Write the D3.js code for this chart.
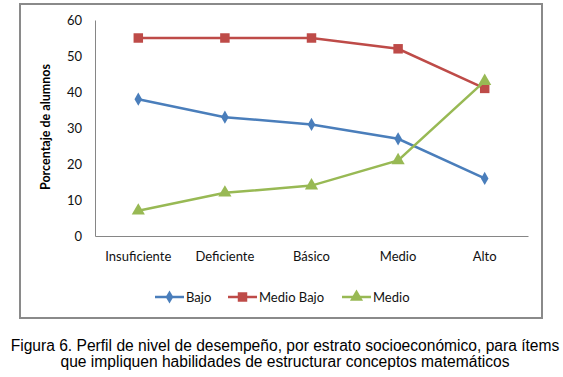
<!DOCTYPE html>
<html>
<head>
<meta charset="utf-8">
<script src="https://cdn.jsdelivr.net/npm/d3@7"></script>
<style>
body { margin: 0; background: #fff; }
</style>
</head>
<body>
<div id="chart-area"></div>
<script>
var categories = ["Insuficiente", "Deficiente", "Básico", "Medio", "Alto"];
var bajo = [38, 33, 31, 27, 16];
var medioBajo = [55, 55, 55, 52, 41];
var medio = [7, 12, 14, 21, 43];
var yTicks = [0, 10, 20, 30, 40, 50, 60];
var seriesNames = ["Bajo", "Medio Bajo", "Medio"];

var colors = ["#4A7EBB", "#BE4B48", "#98B954"];
var shapes = [d3.symbolDiamond, d3.symbolSquare, d3.symbolTriangle];
var sizes = [50, 90, 75];

var series = [bajo, medioBajo, medio].map(function(vals, i){
	return { name: seriesNames[i], values: vals, color: colors[i], shape: shapes[i], size: sizes[i] };
});

var svg = d3.select("#chart-area")
.append("svg")
	.attr("width", 563)
	.attr("height", 377);

// chart frame
svg.append("rect")
	.attr("x", 20)
	.attr("y", 4)
	.attr("width", 522)
	.attr("height", 314)
	.attr("fill", "#fff")
	.attr("stroke", "#8a8a8a")
	.attr("stroke-width", 2);

var plot = {left: 95, right: 528, top: 20, bottom: 236};

	// X scale
var x = d3.scaleBand()
	.domain(categories)
	.range([plot.left, plot.right]);

	// Y scale
var y = d3.scaleLinear()
	.domain([0, 60])
	.range([plot.bottom, plot.top]);

var font = "Lato, 'Open Sans', sans-serif";

	// Y axis
var yAxis = svg.append("g")
	.attr("transform", "translate(" + plot.left + ",0)")
	.call(d3.axisLeft(y).tickValues(yTicks).tickSize(0).tickPadding(13));
yAxis.select(".domain").attr("stroke", "#868686");
yAxis.selectAll("text")
	.attr("font-family", font)
	.attr("font-size", "13px")
	.attr("fill", "#111");

	// X axis
var xAxis = svg.append("g")
	.attr("transform", "translate(0," + plot.bottom + ")")
	.call(d3.axisBottom(x).tickSize(0).tickPadding(16));
xAxis.select(".domain").attr("stroke", "#868686");
xAxis.selectAll("text")
	.attr("font-family", font)
	.attr("font-size", "13px")
	.attr("fill", "#111");

	// Y label
svg.append("text")
	.attr("transform", "translate(50,127) rotate(-90)")
	.attr("text-anchor", "middle")
	.attr("font-family", font)
	.attr("font-size", "12.5px")
	.attr("font-weight", "bold")
	.text("Porcentaje de alumnos");

var line = d3.line()
	.x(function(d, i){ return x(categories[i]) + x.bandwidth() / 2; })
	.y(function(d){ return y(d); });

series.forEach(function(s){
	svg.append("path")
		.attr("d", line(s.values))
		.attr("fill", "none")
		.attr("stroke", s.color)
		.attr("stroke-width", 2.5);

	svg.selectAll(null)
		.data(s.values)
		.enter()
		.append("path")
			.attr("d", d3.symbol().type(s.shape).size(s.size))
			.attr("transform", function(d, i){
				return "translate(" + (x(categories[i]) + x.bandwidth() / 2) + "," + y(d) + ")";
			})
			.attr("fill", s.color);
});

	// legend
var legendX = [155, 228, 342];
series.forEach(function(s, i){
	var row = svg.append("g")
		.attr("transform", "translate(" + legendX[i] + ",297)");
	row.append("line")
		.attr("x1", 0)
		.attr("x2", 29)
		.attr("stroke", s.color)
		.attr("stroke-width", 2.5);
	row.append("path")
		.attr("d", d3.symbol().type(s.shape).size(s.size))
		.attr("transform", "translate(14.5,0)")
		.attr("fill", s.color);
	row.append("text")
		.attr("x", 31)
		.attr("y", 4.5)
		.attr("font-family", font)
		.attr("font-size", "13px")
		.attr("fill", "#111")
		.text(s.name);
});

	// caption
var caption = ["Figura 6. Perfil de nivel de desempeño, por estrato socioeconómico, para ítems",
	"que impliquen habilidades de estructurar conceptos matemáticos"];
caption.forEach(function(t, i){
	svg.append("text")
		.attr("x", 285)
		.attr("y", 351 + i * 15.5)
		.attr("text-anchor", "middle")
		.attr("font-family", "'Liberation Sans', Arial, sans-serif")
		.attr("font-size", "15.6px")
		.text(t);
});
</script>
</body>
</html>
